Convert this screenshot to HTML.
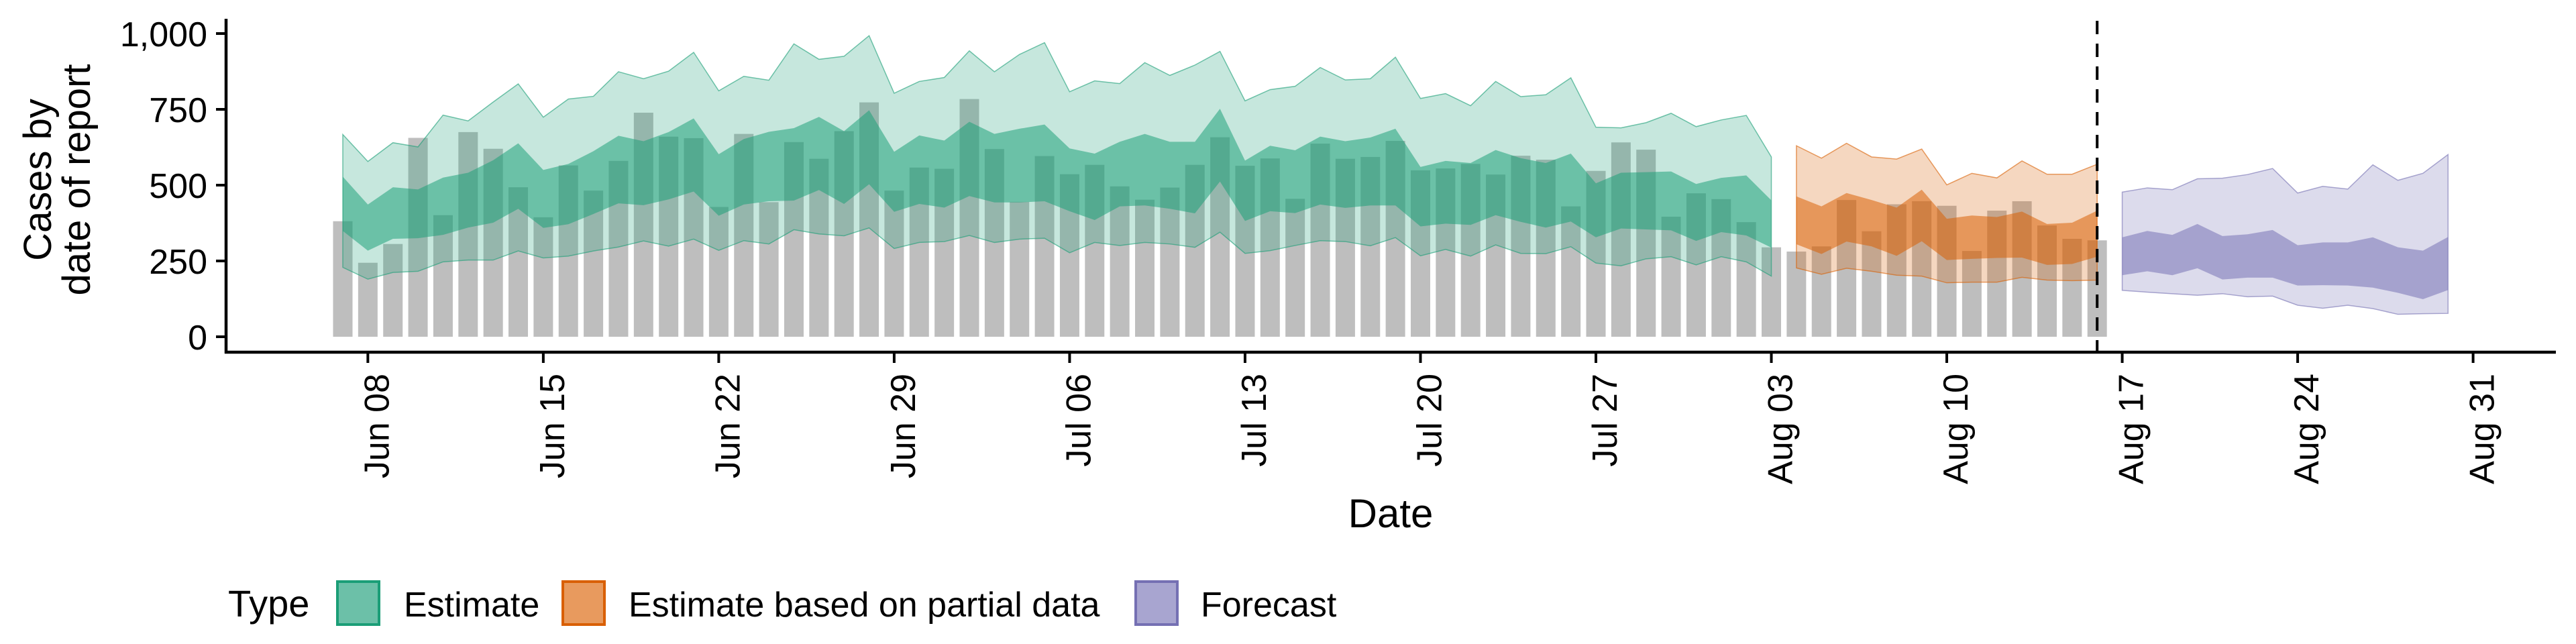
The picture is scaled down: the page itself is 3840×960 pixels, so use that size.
<!DOCTYPE html>
<html><head><meta charset="utf-8"><style>
html,body{margin:0;padding:0;background:#fff;}
svg{display:block;font-family:"Liberation Sans",Arial,sans-serif;}
</style></head><body>
<svg id="chart" width="3840" height="960" viewBox="0 0 3840 960" xmlns="http://www.w3.org/2000/svg">
<g id="bars"></g>
<g id="bands"></g>
<g id="axes"></g>
<text transform="translate(76,268) rotate(-90)" text-anchor="middle" font-size="58">Cases by</text>
<text transform="translate(134,268) rotate(-90)" text-anchor="middle" font-size="58">date of report</text>
<text x="2073" y="786" text-anchor="middle" font-size="60">Date</text>
<g font-size="52">
<text x="340" y="919" font-size="56">Type</text>
<rect x="503" y="867" width="62" height="64" fill="#6cc0a8" stroke="#1b9e77" stroke-width="4"/>
<text x="602" y="919">Estimate</text>
<rect x="839" y="867" width="62" height="64" fill="#e89a5e" stroke="#d95f02" stroke-width="4"/>
<text x="937" y="919">Estimate based on partial data</text>
<rect x="1693" y="867" width="62" height="64" fill="#a8a5d0" stroke="#7570b3" stroke-width="4"/>
<text x="1790" y="919">Forecast</text>
</g>
</svg>
<script>
// day index 0 = Jun 07
const barValues = [381,244,306,656,401,675,620,493,394,565,482,580,739,660,655,
428,669,444,642,587,678,773,482,558,554,784,619,445,596,536,
567,496,452,492,567,658,564,588,455,637,587,593,646,549,555,
570,535,597,584,430,547,641,617,396,473,454,378,295,
281,298,451,348,437,447,432,283,416,447,367,323,318];
const estUpper90 = [667,578,640,626,731,712,774,834,724,784,793,874,851,876,938,811,859,846,966,915,925,993,803,842,855,943,874,931,970,808,844,835,904,862,896,941,778,815,826,888,847,851,922,786,802,762,842,792,798,854,691,689,706,737,693,715,730,593];
const estUpper50 = [528,436,493,486,525,541,582,638,550,570,612,663,645,675,720,602,652,676,688,725,678,747,610,664,647,709,669,686,700,621,604,643,669,643,643,752,581,630,615,660,645,657,686,560,580,573,616,589,573,604,506,541,543,545,504,524,532,450];
const estLower50 = [349,284,323,325,336,360,376,422,359,371,405,440,434,453,479,399,436,447,449,484,438,503,412,438,426,464,443,443,447,414,385,430,433,422,407,512,382,414,408,436,425,433,433,364,373,369,401,379,360,380,328,357,354,351,316,345,334,294];
const estLower90 = [229,190,212,216,247,253,253,283,260,266,283,296,316,299,322,285,317,306,353,339,333,359,291,311,314,334,311,322,325,277,311,301,311,306,295,345,275,284,301,317,314,300,327,267,288,266,303,275,274,297,243,234,257,264,237,264,247,200];
const partialStart = 58;
const partUpper90 = [630,589,638,593,586,619,501,539,524,580,536,536,569];
const partUpper50 = [463,430,474,451,426,485,389,400,395,413,372,376,416];
const partLower50 = [305,273,314,298,267,315,253,257,260,261,237,240,264];
const partLower90 = [227,206,226,216,203,200,178,180,180,196,187,185,187];
const forecastStart = 71;
const fcUpper90 = [477,491,485,521,523,535,555,474,496,487,567,516,539,601];
const fcUpper50 = [328,349,336,372,332,338,352,302,311,311,328,295,284,329];
const fcLower50 = [203,216,203,226,189,195,195,169,170,169,162,145,124,154];
const fcLower90 = [153,147,142,137,142,132,134,104,94,104,93,74,76,77];
const yTicks = [0,250,500,750,1000];
const yTickLabels = ["0","250","500","750","1,000"];
const xTickDays = [1,8,15,22,29,36,43,50,57,64,71,78,85];
const xTickLabels = ["Jun 08","Jun 15","Jun 22","Jun 29","Jul 06","Jul 13","Jul 20","Jul 27","Aug 03","Aug 10","Aug 17","Aug 24","Aug 31"];
const cutoffDay = 70;

const NS = "http://www.w3.org/2000/svg";
function xs(d){ return 511 + 37.36*d; }
function ys(v){ return 502 - v*0.452; }
function mk(tag, attrs, parent){
  const e = document.createElementNS(NS, tag);
  for (const k in attrs) e.setAttribute(k, attrs[k]);
  parent.appendChild(e); return e;
}
const barsG = document.getElementById('bars');
barValues.forEach((v,i)=>{
  const r = mk('rect',{x:xs(i)-14.5,y:ys(v),width:29,height:ys(0)-ys(v),fill:'#bebebe'},barsG);
  
  
});
const bandsG = document.getElementById('bands');
function band(start, up, lo, fill, op, stroke, name){
  let pts = up.map((v,i)=>xs(start+i)+','+ys(v));
  for (let i=lo.length-1;i>=0;i--) pts.push(xs(start+i)+','+ys(lo[i]));
  const p = mk('polygon',{points:pts.join(' '),fill:fill,'fill-opacity':op,stroke:stroke,'stroke-width':1.5,'stroke-opacity':0.6},bandsG);
  
  
}
band(0, estUpper90, estLower90, '#1b9e77', 0.25, '#1b9e77', 'estimate-90-band');
band(0, estUpper50, estLower50, '#1b9e77', 0.53, 'none', 'estimate-50-band');
band(partialStart, partUpper90, partLower90, '#d95f02', 0.25, '#d95f02', 'partial-90-band');
band(partialStart, partUpper50, partLower50, '#d95f02', 0.53, 'none', 'partial-50-band');
band(forecastStart, fcUpper90, fcLower90, '#7570b3', 0.25, '#7570b3', 'forecast-90-band');
band(forecastStart, fcUpper50, fcLower50, '#7570b3', 0.53, 'none', 'forecast-50-band');

const ax = document.getElementById('axes');
const yl = mk('line',{x1:337,y1:28,x2:337,y2:527,stroke:'#000','stroke-width':4.5},ax);


const xl = mk('line',{x1:335,y1:525,x2:3810,y2:525,stroke:'#000','stroke-width':4.5},ax);


yTicks.forEach((v,i)=>{
  const t = mk('line',{x1:322,y1:ys(v),x2:337,y2:ys(v),stroke:'#000','stroke-width':4},ax);
  
  
  const l = mk('text',{x:309,y:ys(v)+19,'text-anchor':'end','font-size':52},ax);
  l.textContent = yTickLabels[i];
  
  
});
xTickDays.forEach((d,i)=>{
  const x = xs(d);
  const t = mk('line',{x1:x,y1:525,x2:x,y2:541,stroke:'#000','stroke-width':4},ax);
  
  
  const l = mk('text',{transform:'translate('+(x+31)+',557) rotate(-90)','text-anchor':'end','font-size':52},ax);
  l.textContent = xTickLabels[i];
  
  
});
const cut = mk('line',{x1:xs(cutoffDay),y1:31,x2:xs(cutoffDay),y2:525,stroke:'#000','stroke-width':4,'stroke-dasharray':'20 14'},ax);


</script>
</body></html>
